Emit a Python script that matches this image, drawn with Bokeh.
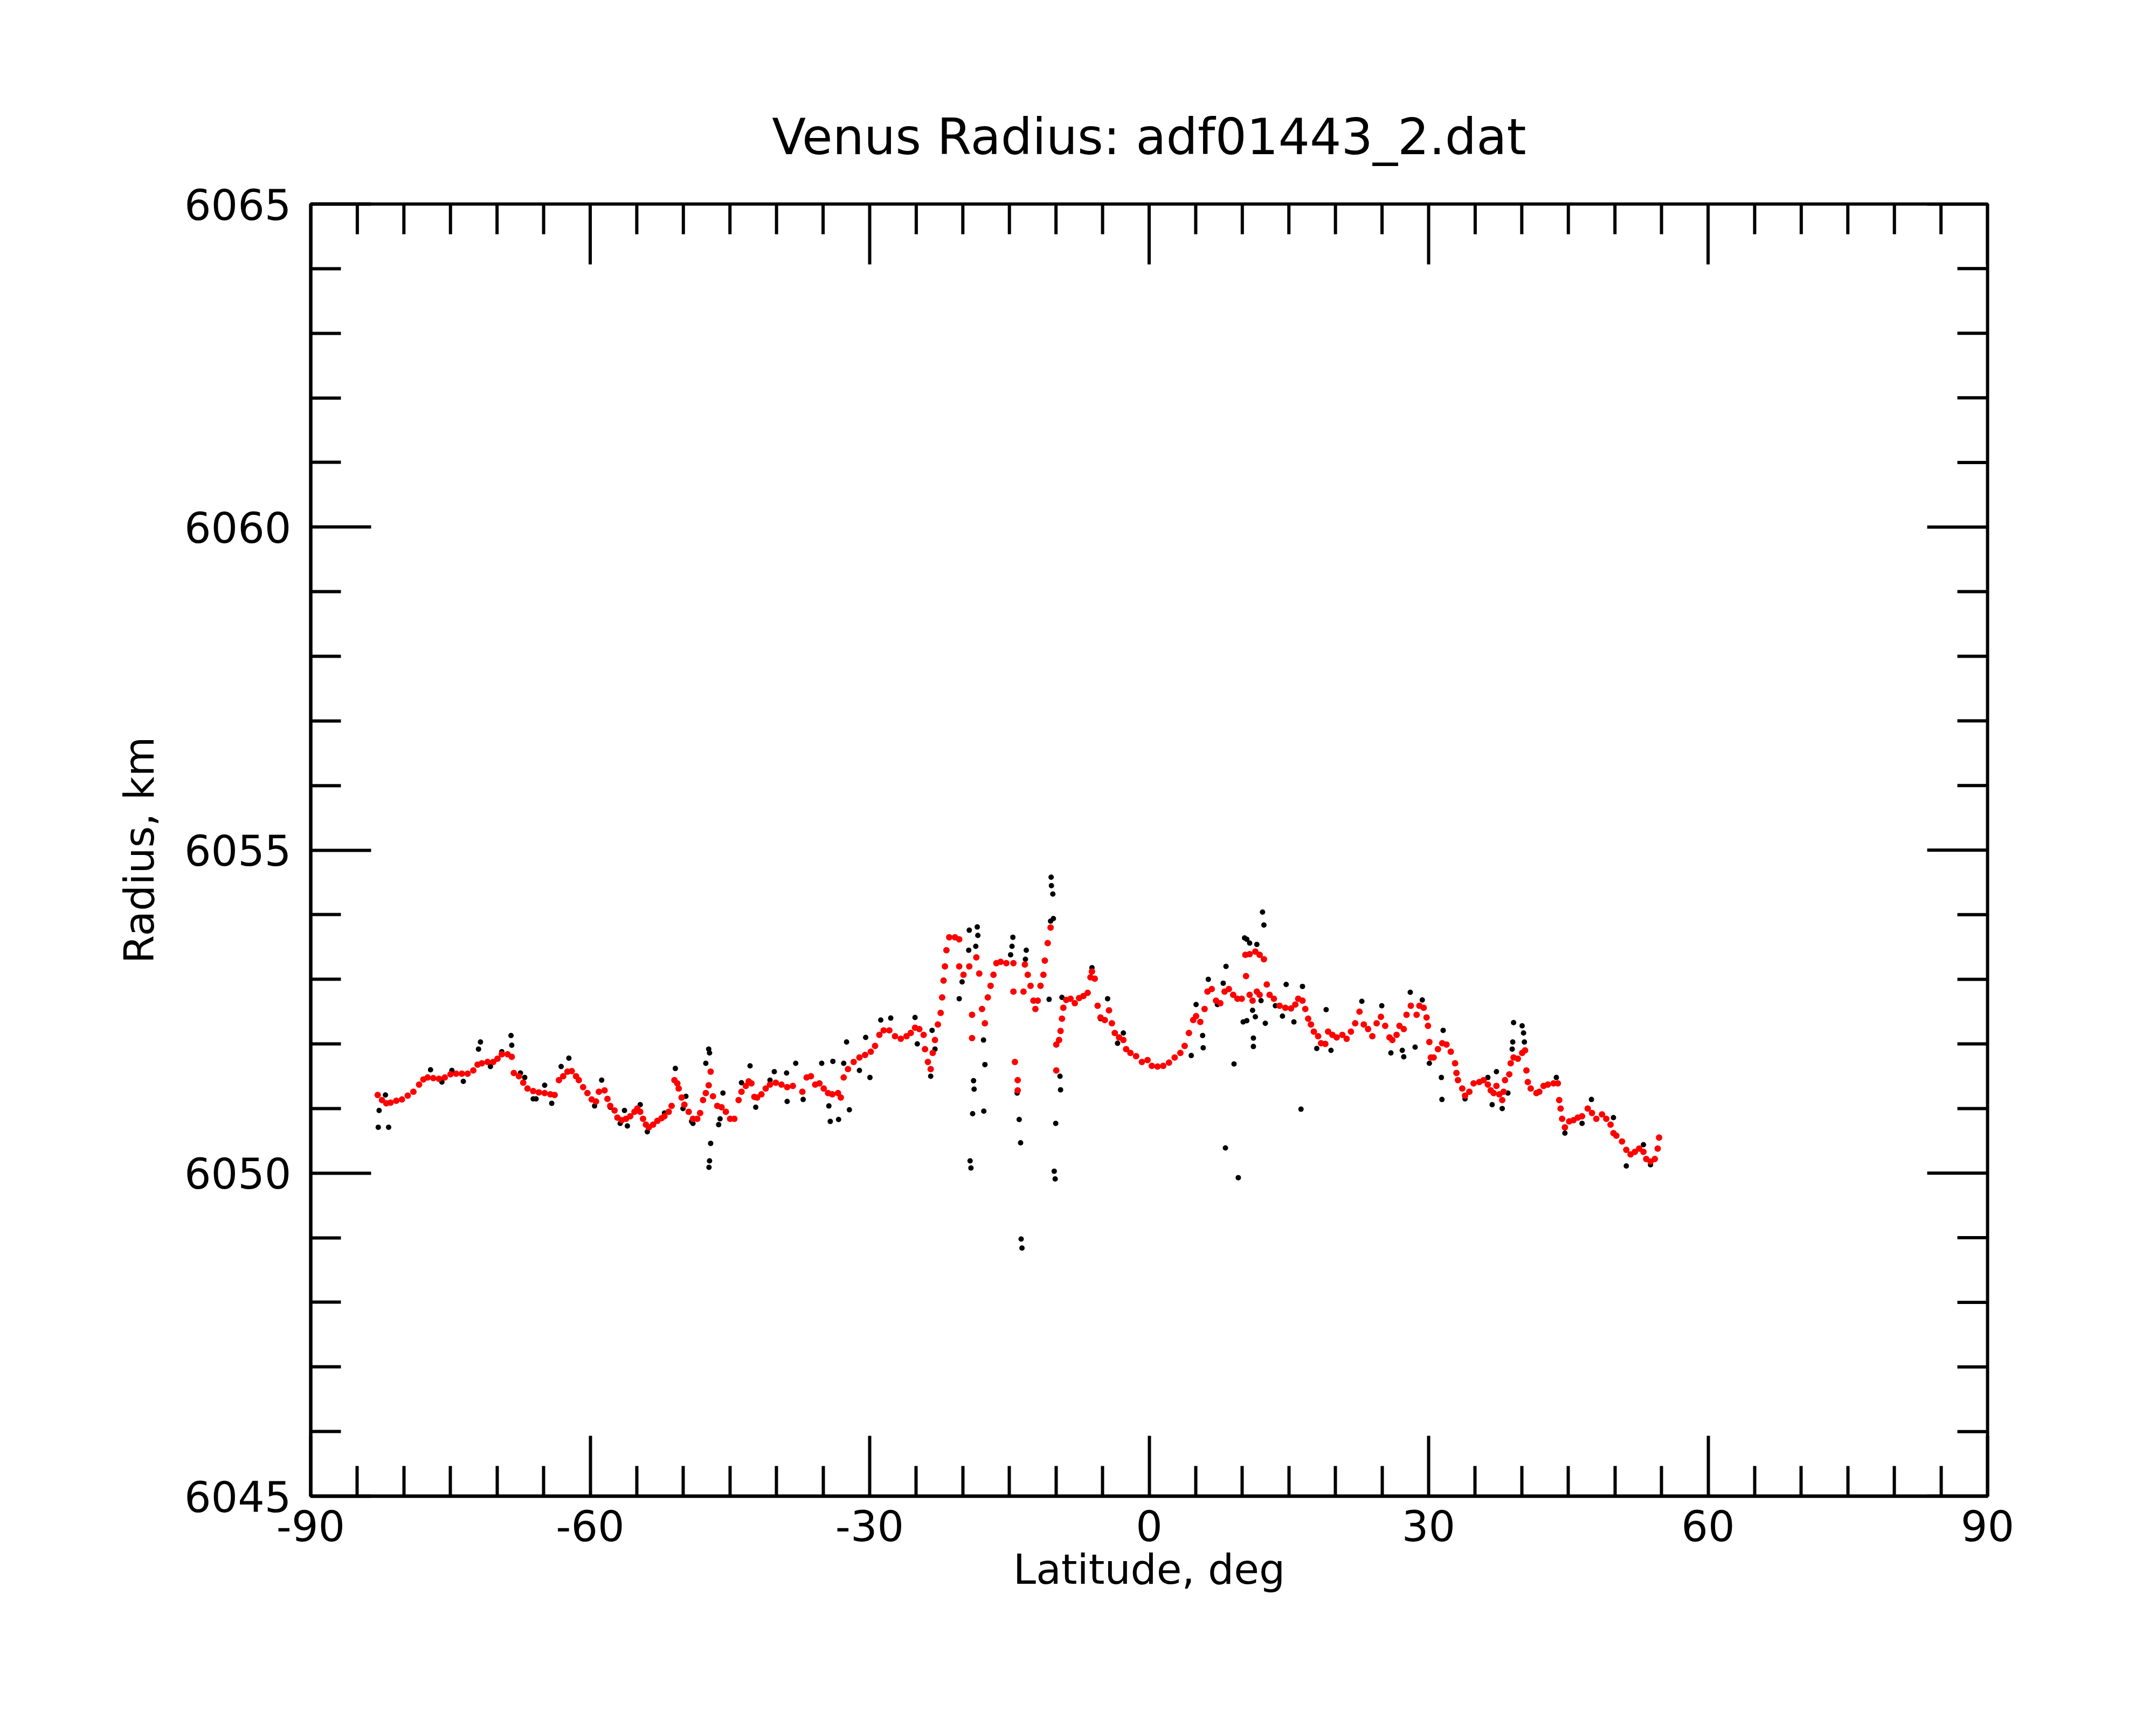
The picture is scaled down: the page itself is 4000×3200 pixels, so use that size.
import math
from bokeh.plotting import figure
from bokeh.models import Range1d, FixedTicker
from bokeh.embed import file_html
from bokeh.resources import INLINE

# ---------------- data ----------------
title_text = "Venus Radius: adf01443_2.dat"
x_label = "Latitude, deg"
y_label = "Radius, km"

x_major = [-90, -60, -30, 0, 30, 60, 90]
x_major_text = ["-90", "-60", "-30", "0", "30", "60", "90"]
x_minor = [-85, -80, -75, -70, -65, -55, -50, -45, -40, -35, -25, -20, -15, -10, -5,
           5, 10, 15, 20, 25, 35, 40, 45, 50, 55, 65, 70, 75, 80, 85]
y_major = [6045, 6050, 6055, 6060, 6065]
y_minor = [6046, 6047, 6048, 6049, 6051, 6052, 6053, 6054,
           6056, 6057, 6058, 6059, 6061, 6062, 6063, 6064]

# smoothed radius (red)
smooth_lat = [
    -82.81, -82.35, -81.89, -81.43, -80.82, -80.21, -79.59, -78.98, -78.37, -77.91,
    -77.45, -76.84, -76.23, -75.61, -75.00, -74.39, -73.78, -73.16, -72.55, -72.09,
    -71.63, -71.02, -70.41, -69.95, -69.49, -68.87, -68.42, -68.20, -67.65, -67.19,
    -66.73, -66.12, -65.51, -64.89, -64.28, -63.82, -63.36, -62.90, -62.44, -61.98,
    -61.52, -61.22, -60.76, -60.30, -59.84, -59.38, -59.07, -58.46, -58.15, -57.85,
    -57.39, -57.08, -56.62, -56.16, -55.70, -55.25, -54.94, -54.63, -54.33, -54.02,
    -53.71, -53.25, -52.79, -52.34, -52.03, -51.57, -51.26, -50.96, -50.65, -50.50,
    -50.19, -49.89, -49.43, -48.97, -48.51, -48.20, -47.89, -47.59, -47.28, -47.07,
    -46.82, -46.36, -45.90, -45.44, -44.98, -44.53, -44.07, -43.76, -43.30, -42.99,
    -42.69, -42.38, -42.08, -41.62, -41.16, -40.70, -40.08, -39.47, -38.86, -38.25,
    -37.23, -36.77, -36.31, -35.85, -35.39, -34.93, -34.47, -34.01, -33.40, -33.10,
    -32.79, -32.33, -31.72, -31.10, -30.49, -29.88, -29.42, -28.96, -28.50, -27.89,
    -27.28, -26.66, -26.05, -25.59, -25.13, -24.67, -24.21, -24.06, -23.75, -23.45,
    -23.23, -22.99, -22.68, -22.38, -22.22, -22.07, -21.92, -21.76, -21.46, -20.84,
    -20.39, -20.39, -19.93, -19.31, -19.01, -19.01, -18.55, -18.24, -17.94, -17.63,
    -17.32, -17.02, -16.71, -16.40, -15.94, -15.33, -14.57, -14.57, -14.41, -14.11,
    -14.11, -13.49, -13.34, -13.03, -12.73, -12.42, -12.21, -11.96, -11.66, -11.35,
    -11.20, -10.89, -10.58, -9.97, -9.97, -9.67, -9.51, -9.36, -9.21, -8.90,
    -8.44, -7.98, -7.52, -7.06, -6.60, -6.30, -6.14, -5.84, -5.53, -5.22,
    -4.76, -4.31, -4.00, -3.69, -3.23, -2.77, -2.47, -2.01, -1.40, -0.78,
    -0.17, 0.29, 0.90, 1.51, 2.13, 2.74, 3.35, 3.81, 4.27, 4.73,
    5.04, 5.49, 5.95, 6.26, 6.72, 7.18, 7.64, 8.10, 8.56, 9.02,
    9.48, 9.94, 10.33, 10.79, 11.40, 11.86, 12.32, 10.79, 11.10, 11.56,
    11.86, 10.40, 12.63, 12.93, 13.39, 14.00, 14.62, 15.23, 15.69, 16.00,
    16.46, 16.76, 17.07, 17.37, 17.68, 18.14, 18.45, 18.91, 19.21, 19.67,
    20.13, 20.74, 21.20, 21.66, 22.12, 22.58, 23.04, 23.50, 23.96, 24.42,
    24.88, 25.34, 25.80, 26.10, 26.56, 26.87, 27.33, 27.63, 28.09, 28.71,
    29.01, 29.47, 29.78, 29.93, 30.08, 30.24, 30.54, 31.00, 31.46, 31.92,
    32.38, 32.84, 32.99, 33.15, 33.61, 33.91, 34.37, 34.83, 35.44, 35.90,
    36.36, 36.67, 36.98, 37.28, 37.59, 37.90, 38.05, 38.20, 38.66, 38.81,
    39.12, 39.58, 40.04, 40.35, 40.50, 40.65, 40.96, 41.57, 41.88, 42.34,
    42.80, 43.41, 43.87, 44.02, 44.17, 44.33, 44.63, 45.09, 45.55, 46.01,
    46.47, 47.08, 47.54, 48.00, 48.61, 49.07, 49.53, 49.84, 50.15, 50.76,
    51.22, 51.68, 52.14, 52.60, 53.06, 53.36, 53.82, 54.28, 54.59, 54.74,
]
smooth_rad = [
    6051.21, 6051.13, 6051.08, 6051.09, 6051.12, 6051.14, 6051.20, 6051.26, 6051.37, 6051.45,
    6051.48, 6051.47, 6051.46, 6051.48, 6051.53, 6051.54, 6051.54, 6051.54, 6051.59, 6051.68,
    6051.70, 6051.72, 6051.72, 6051.77, 6051.84, 6051.84, 6051.80, 6051.55, 6051.50, 6051.40,
    6051.31, 6051.27, 6051.25, 6051.24, 6051.22, 6051.21, 6051.44, 6051.50, 6051.57, 6051.58,
    6051.50, 6051.44, 6051.33, 6051.24, 6051.14, 6051.11, 6051.26, 6051.28, 6051.15, 6051.04,
    6050.97, 6050.86, 6050.82, 6050.84, 6050.88, 6050.95, 6051.00, 6050.95, 6050.84, 6050.75,
    6050.71, 6050.75, 6050.81, 6050.85, 6050.88, 6050.95, 6051.04, 6051.44, 6051.39, 6051.31,
    6051.17, 6051.06, 6050.95, 6050.84, 6050.84, 6050.93, 6051.13, 6051.24, 6051.36, 6051.57,
    6051.19, 6051.04, 6051.02, 6050.95, 6050.84, 6050.84, 6051.13, 6051.26, 6051.35, 6051.42,
    6051.39, 6051.18, 6051.17, 6051.22, 6051.31, 6051.37, 6051.40, 6051.37, 6051.33, 6051.35,
    6051.26, 6051.48, 6051.50, 6051.37, 6051.39, 6051.31, 6051.24, 6051.22, 6051.24, 6051.17,
    6051.48, 6051.61, 6051.72, 6051.79, 6051.83, 6051.88, 6051.97, 6052.14, 6052.21, 6052.21,
    6052.12, 6052.08, 6052.12, 6052.17, 6052.25, 6052.23, 6052.14, 6051.92, 6051.72, 6051.61,
    6051.86, 6052.06, 6052.30, 6052.48, 6052.72, 6052.98, 6053.20, 6053.45, 6053.65, 6053.65,
    6053.62, 6053.20, 6053.07, 6053.20, 6052.45, 6052.09, 6053.34, 6053.09, 6052.54, 6052.32,
    6052.72, 6052.90, 6053.07, 6053.25, 6053.27, 6053.25, 6053.25, 6052.81, 6051.72, 6051.44,
    6051.28, 6052.81, 6053.23, 6053.07, 6052.90, 6052.67, 6052.54, 6052.67, 6052.90, 6053.07,
    6053.29, 6053.56, 6053.80, 6051.99, 6051.59, 6052.06, 6052.20, 6052.39, 6052.56, 6052.68,
    6052.70, 6052.63, 6052.71, 6052.74, 6052.79, 6053.03, 6053.12, 6053.01, 6052.59, 6052.41,
    6052.37, 6052.52, 6052.32, 6052.17, 6052.10, 6052.06, 6051.92, 6051.86, 6051.81, 6051.72,
    6051.75, 6051.66, 6051.65, 6051.66, 6051.71, 6051.79, 6051.86, 6051.97, 6052.17, 6052.37,
    6052.43, 6052.34, 6052.54, 6052.81, 6052.85, 6052.67, 6052.63, 6052.81, 6052.85, 6052.76,
    6052.70, 6052.70, 6053.38, 6053.39, 6053.43, 6053.38, 6053.31, 6052.76, 6052.67, 6052.81,
    6052.76, 6053.05, 6052.92, 6052.76, 6052.70, 6052.59, 6052.56, 6052.55, 6052.61, 6052.70,
    6052.67, 6052.54, 6052.39, 6052.30, 6052.19, 6052.12, 6052.01, 6052.00, 6052.19, 6052.14,
    6052.10, 6052.14, 6052.08, 6052.19, 6052.32, 6052.50, 6052.30, 6052.23, 6052.12, 6052.32,
    6052.42, 6052.28, 6052.10, 6052.06, 6052.14, 6052.28, 6052.23, 6052.45, 6052.59, 6052.45,
    6052.59, 6052.56, 6052.41, 6052.28, 6052.03, 6051.79, 6051.79, 6051.92, 6052.01, 6051.99,
    6051.88, 6051.70, 6051.55, 6051.44, 6051.31, 6051.20, 6051.26, 6051.39, 6051.41, 6051.44,
    6051.37, 6051.28, 6051.24, 6051.35, 6051.22, 6051.13, 6051.26, 6051.44, 6051.53, 6051.70,
    6051.79, 6051.77, 6051.86, 6051.90, 6051.59, 6051.41, 6051.31, 6051.24, 6051.26, 6051.35,
    6051.37, 6051.39, 6051.39, 6051.13, 6051.00, 6050.84, 6050.71, 6050.80, 6050.82, 6050.86,
    6050.88, 6051.00, 6050.93, 6050.84, 6050.91, 6050.84, 6050.75, 6050.62, 6050.58, 6050.49,
    6050.36, 6050.29, 6050.33, 6050.38, 6050.33, 6050.22, 6050.18, 6050.22, 6050.38, 6050.55,
]

# raw measurements that stand out from the smoothed curve (black)
raw_lat = [
    -82.75, -81.64, -82.66, -81.98, -71.78, -71.99, -68.50, -68.42, -62.29, -63.12,
    -58.77, -50.86, -47.28, -47.19, -47.07, -47.19, -47.25, -42.84, -40.24, -38.92,
    -37.94, -53.87, -56.01, -46.21, -48.97, -42.23, -64.13, -65.81, -59.53, -77.14,
    -74.85, -75.92, -73.62, -70.71, -69.49, -67.49, -67.03, -66.12, -64.89, -57.85,
    -56.78, -56.32, -54.63, -52.03, -49.73, -50.04, -49.12, -47.59, -45.75, -46.06,
    -43.76, -40.70, -38.86,
    -10.52, -10.49, -10.34, -10.58, -10.28, -10.74, -19.31, -18.45, -18.39, -19.37,
    -18.61, -20.39, -20.08, -17.78, -17.63, -18.85, -18.79, -18.95, -17.75, -19.22,
    -19.13, -14.63, -14.72, -14.87, -13.19, -13.28, -13.95, -13.80, -13.74, -13.65,
    -14.17, -10.03, -10.19, -10.09, -9.57, -9.51, -9.36, 8.19, 9.57, 9.11,
    8.25, 10.24, 5.74, 5.80, 4.52, 6.35, 5.04, 10.09, -34.23, -33.34,
    -32.18, -32.48, -30.43, -29.97, -33.95, -35.15, -23.45, -24.89, -28.81, -27.74,
    -25.13, -23.30, -22.99, -37.14, -34.38, -31.10, -32.79, -3.39, -2.77, -4.46,
    -6.14, -5.22, 7.95, 7.33,
    12.17, 12.32, 10.48, 10.79, 11.56, 16.30, 11.19, 11.19, 10.48, 11.10,
    12.01, 12.47, 11.40, 14.71, 16.46, 31.37, 31.43, 39.12, 40.04, 40.19,
    40.28, 39.03, 38.97, 28.03, 29.32, 22.83, 24.97, 19.00, 31.56, 47.48,
    51.22, 27.33, 27.17, 25.95, 28.55, 37.28, 38.51, 37.90, 36.82, 36.36,
    43.71, 44.63, 46.47, 49.84, 53.82, 53.06, 33.91, 19.52, 17.99, 14.31,
    15.54, 13.55, 30.08,
]
raw_rad = [
    6050.71, 6050.71, 6050.97, 6051.21, 6052.03, 6051.92, 6052.13, 6051.98, 6051.78, 6051.65,
    6051.44, 6051.62, 6051.92, 6051.86, 6050.46, 6050.19, 6050.09, 6051.66, 6051.57, 6051.55,
    6051.70, 6050.64, 6050.73, 6050.75, 6050.77, 6051.02, 6051.08, 6051.15, 6051.04, 6051.60,
    6051.59, 6051.41, 6051.42, 6051.65, 6051.88, 6051.55, 6051.48, 6051.15, 6051.36, 6051.02,
    6050.77, 6050.97, 6051.06, 6050.93, 6051.19, 6051.00, 6050.80, 6051.70, 6051.24, 6050.84,
    6051.40, 6051.44, 6051.11,
    6054.58, 6054.45, 6054.32, 6053.90, 6053.94, 6052.69, 6053.76, 6053.81, 6053.68, 6053.45,
    6053.51, 6052.70, 6052.96, 6052.06, 6051.68, 6051.43, 6051.30, 6050.92, 6050.96, 6050.19,
    6050.08, 6053.65, 6053.51, 6053.38, 6053.45, 6053.31, 6050.83, 6050.47, 6048.98, 6048.84,
    6051.24, 6050.77, 6050.03, 6049.91, 6051.50, 6051.29, 6052.72, 6050.39, 6049.93, 6051.69,
    6053.20, 6053.64, 6052.13, 6051.94, 6051.82, 6053.00, 6052.61, 6052.34, 6050.80, 6050.83,
    6050.98, 6052.03, 6052.10, 6051.48, 6051.73, 6051.70, 6051.50, 6052.00, 6052.37, 6052.40,
    6052.41, 6052.21, 6051.92, 6051.14, 6051.04, 6051.59, 6051.70, 6052.01, 6052.17, 6052.70,
    6053.18, 6052.39, 6052.94, 6052.61,
    6054.04, 6053.84, 6053.62, 6053.56, 6053.54, 6050.99, 6052.09, 6051.96, 6052.36, 6052.52,
    6052.67, 6052.32, 6052.42, 6052.92, 6052.89, 6051.48, 6051.14, 6052.33, 6052.28, 6052.17,
    6052.03, 6052.03, 6051.92, 6052.80, 6052.68, 6052.66, 6052.59, 6052.53, 6052.21, 6051.14,
    6050.11, 6051.80, 6051.90, 6051.86, 6051.95, 6051.57, 6051.24, 6051.00, 6051.06, 6051.48,
    6051.48, 6050.62, 6050.77, 6050.86, 6050.13, 6050.44, 6051.15, 6051.90, 6051.93, 6052.43,
    6052.34, 6052.59, 6051.70,
]

# ---------------- figure ----------------
FONT = "DejaVu Sans"
X_LO, X_HI = -90, 90
Y_LO, Y_HI = 6045, 6065
MAJOR_LEN = 112
MINOR_LEN = 56
LW = 6

p = figure(width=3984, height=3184,
           x_range=Range1d(X_LO, X_HI), y_range=Range1d(Y_LO, Y_HI),
           output_backend="svg", toolbar_location=None,
           min_border_left=576, min_border_right=297,
           min_border_top=378, min_border_bottom=409,
           title=title_text)

p.background_fill_color = "white"
p.border_fill_color = "white"
p.outline_line_color = "black"
p.outline_line_width = LW
p.xgrid.visible = False
p.ygrid.visible = False

p.title.text_font = FONT
p.title.text_font_size = "92px"
p.title.text_font_style = "normal"
p.title.text_color = "black"
p.title.align = "center"
p.title.standoff = 141


def style_axis(ax, ticks, minor):
    ax.ticker = FixedTicker(ticks=ticks, minor_ticks=minor)
    ax.axis_line_width = LW
    ax.axis_line_color = "black"
    ax.major_tick_line_width = LW
    ax.minor_tick_line_width = LW
    ax.major_tick_line_color = "black"
    ax.minor_tick_line_color = "black"
    ax.major_tick_in = MAJOR_LEN
    ax.major_tick_out = 0
    ax.minor_tick_in = MINOR_LEN
    ax.minor_tick_out = 0
    ax.major_label_text_font = FONT
    ax.major_label_text_font_size = "78px"
    ax.major_label_text_color = "black"
    ax.axis_label_text_font = FONT
    ax.axis_label_text_font_size = "76px"
    ax.axis_label_text_font_style = "normal"
    ax.axis_label_text_color = "black"


xa = p.xaxis[0]
style_axis(xa, x_major, x_minor)
xa.axis_label = x_label
xa.major_label_overrides = {t: s for t, s in zip(x_major, x_major_text)}
xa.major_label_standoff = 25
xa.axis_label_standoff = 5

ya = p.yaxis[0]
style_axis(ya, y_major, y_minor)
ya.axis_label = y_label
ya.major_label_standoff = 36
ya.axis_label_standoff = 36

# inward ticks on the top and right frame edges (no labels there)
p.ray(x=x_major, y=[Y_HI] * len(x_major), length=MAJOR_LEN, length_units="screen",
      angle=-math.pi / 2, line_color="black", line_width=LW)
p.ray(x=x_minor, y=[Y_HI] * len(x_minor), length=MINOR_LEN, length_units="screen",
      angle=-math.pi / 2, line_color="black", line_width=LW)
p.ray(x=[X_HI] * len(y_major), y=y_major, length=MAJOR_LEN, length_units="screen",
      angle=math.pi, line_color="black", line_width=LW)
p.ray(x=[X_HI] * len(y_minor), y=y_minor, length=MINOR_LEN, length_units="screen",
      angle=math.pi, line_color="black", line_width=LW)

p.scatter(raw_lat, raw_rad, marker="circle", size=10,
          fill_color="black", line_color="black", line_width=0)
p.scatter(smooth_lat, smooth_rad, marker="circle", size=12,
          fill_color="#ff0000", line_color="#ff0000", line_width=0)

open("out.html", "w").write(file_html(p, INLINE))
